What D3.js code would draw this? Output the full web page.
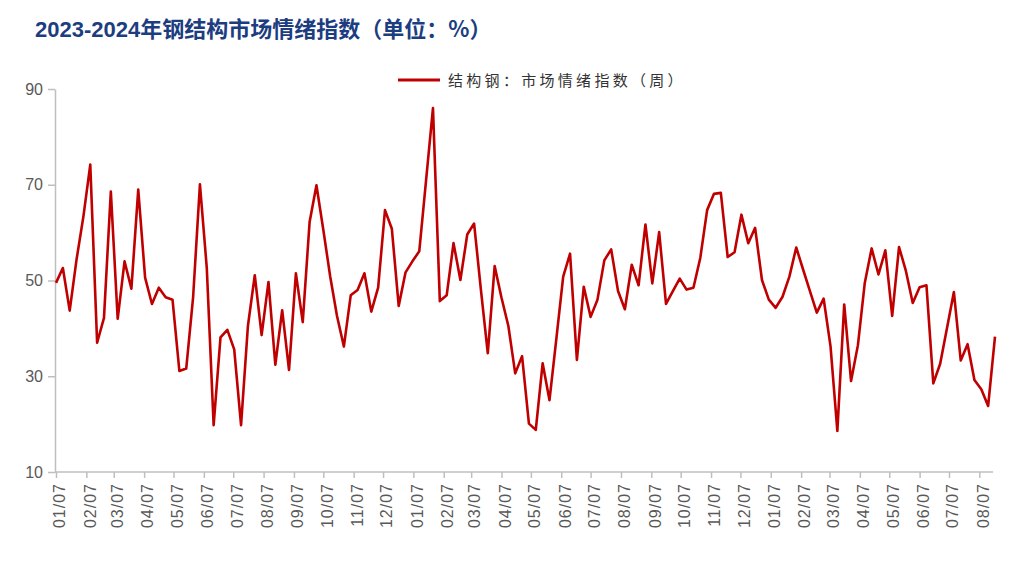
<!DOCTYPE html>
<html>
<head>
<meta charset="utf-8">
<script src="https://cdn.jsdelivr.net/npm/d3@7"></script>
<style>
  html, body { margin: 0; padding: 0; background: #fff; }
  svg { display: block; }
</style>
</head>
<body>
<svg id="chart" width="1025" height="571"></svg>
<script>
// ---- data ----
const titleYears = "2023-2024";
const titleRest = "年钢结构市场情绪指数（单位：%）";
const seriesName = "结构钢：市场情绪指数（周）";
const startDate = "2022-01-07"; // first weekly observation
const values = [
  49.5, 52.6, 43.7, 54.4, 63.4, 74.2, 37.0, 42.2, 68.6, 42.0,
  54.0, 48.3, 69.0, 50.6, 45.1, 48.5, 46.5, 46.0, 31.1, 31.6,
  46.4, 70.1, 52.6, 19.8, 38.1, 39.7, 35.6, 19.8, 40.5, 51.1,
  38.6, 49.7, 32.4, 43.8, 31.3, 51.5, 41.3, 62.2, 69.9, 60.6,
  50.9, 42.6, 36.2, 46.9, 48.0, 51.5, 43.5, 48.5, 64.7, 60.8,
  44.7, 51.7, 54.0, 56.1, 71.0, 86.0, 45.7, 46.9, 57.8, 50.1,
  59.6, 61.9, 48.0, 34.8, 53.0, 46.4, 40.5, 30.6, 34.2, 20.1,
  18.8, 32.7, 25.0, 37.8, 50.8, 55.6, 33.4, 48.7, 42.4, 46.0,
  54.2, 56.5, 47.8, 44.0, 53.3, 49.0, 61.7, 49.4, 60.1, 45.1,
  47.8, 50.4, 48.1, 48.5, 54.7, 64.7, 68.1, 68.3, 54.9, 55.9,
  63.75, 57.8, 61.0, 50.1, 46.0, 44.3, 46.6, 50.8, 56.9, 52.3,
  47.8, 43.3, 46.2, 36.3, 18.6, 45.0, 29.0, 36.5, 49.5, 56.7,
  51.25, 56.3, 42.6, 57.0, 52.0, 45.3, 48.6, 49.0, 28.5, 32.6,
  40.1, 47.6, 33.3, 36.7, 29.2, 27.3, 23.8, 38.3
];
const tickMonths = [
  "2022-01-07","2022-02-07","2022-03-07","2022-04-07","2022-05-07","2022-06-07",
  "2022-07-07","2022-08-07","2022-09-07","2022-10-07","2022-11-07","2022-12-07",
  "2023-01-07","2023-02-07","2023-03-07","2023-04-07","2023-05-07","2023-06-07",
  "2023-07-07","2023-08-07","2023-09-07","2023-10-07","2023-11-07","2023-12-07",
  "2024-01-07","2024-02-07","2024-03-07","2024-04-07","2024-05-07","2024-06-07",
  "2024-07-07","2024-08-07"
];
const yTicks = [10, 30, 50, 70, 90];

// ---- build ----
const parse = d3.timeParse("%Y-%m-%d");
const t0 = parse(startDate);
const data = values.map((v, i) => ({ date: d3.timeDay.offset(t0, 7 * i), value: v }));
const ticks = tickMonths.map(parse);

const svg = d3.select("#chart");
const x = d3.scaleTime()
  .domain([data[0].date, data[data.length - 1].date])
  .range([56, 995]);
const y = d3.scaleLinear().domain([10, 90]).range([472, 89]);

const axisColor = "#bfbfbf";
const labelColor = "#595959";

// title
const title = svg.append("text")
  .attr("x", 35).attr("y", 37)
  .attr("font-weight", "bold")
  .attr("fill", "#1c3d80");
title.append("tspan")
  .attr("font-family", "'Liberation Sans', Arial, sans-serif")
  .attr("font-size", 22)
  .text(titleYears);
title.append("tspan")
  .attr("font-family", "'Noto Sans CJK SC', sans-serif")
  .attr("font-size", 22)
  .text(titleRest);

// y axis
const yAxis = svg.append("g")
  .attr("transform", "translate(55,0)")
  .call(d3.axisLeft(y).tickValues(yTicks).tickSize(7).tickSizeOuter(0).tickPadding(5));
yAxis.select(".domain").attr("stroke", axisColor).attr("stroke-width", 1.5);
yAxis.selectAll(".tick line").attr("stroke", axisColor).attr("stroke-width", 1.5);
yAxis.selectAll(".tick text")
  .attr("fill", labelColor)
  .attr("font-family", "'Liberation Sans', Arial, sans-serif")
  .attr("font-size", 16);

// x axis
const xAxis = svg.append("g")
  .attr("transform", "translate(0,472)")
  .call(d3.axisBottom(x).tickValues(ticks).tickFormat(d3.timeFormat("%m/%d")).tickSize(6).tickSizeOuter(0));
xAxis.select(".domain").attr("stroke", axisColor).attr("stroke-width", 1.5)
  .attr("d", "M55,0H993");
xAxis.selectAll(".tick line").attr("stroke", axisColor).attr("stroke-width", 1.5);
xAxis.selectAll(".tick text")
  .attr("fill", labelColor)
  .attr("font-family", "'Liberation Sans', Arial, sans-serif")
  .attr("font-size", 16)
  .attr("letter-spacing", 1)
  .attr("text-anchor", "end")
  .attr("transform", "rotate(-90)")
  .attr("x", -11)
  .attr("y", 0)
  .attr("dy", "0.55em");

// line
const line = d3.line().x(d => x(d.date)).y(d => y(d.value));
svg.append("path")
  .datum(data)
  .attr("fill", "none")
  .attr("stroke", "#c00000")
  .attr("stroke-width", 2.6)
  .attr("stroke-linejoin", "round")
  .attr("d", line);

// legend
const lg = svg.append("g");
lg.append("line")
  .attr("x1", 398).attr("x2", 440).attr("y1", 80).attr("y2", 80)
  .attr("stroke", "#c00000").attr("stroke-width", 3);
lg.append("text")
  .attr("x", 448).attr("y", 86)
  .attr("font-family", "'Noto Sans CJK SC', sans-serif")
  .attr("font-size", 15)
  .attr("letter-spacing", 3.3)
  .attr("fill", "#333")
  .text(seriesName);
</script>
</body>
</html>
